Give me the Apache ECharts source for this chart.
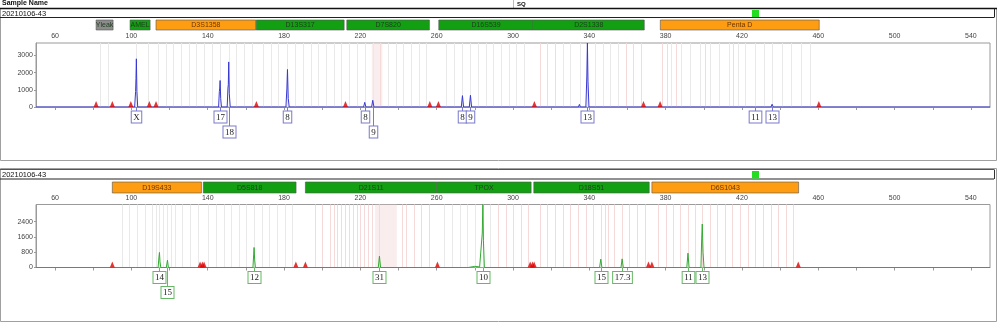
<!DOCTYPE html>
<html><head><meta charset="utf-8">
<script src="https://cdn.jsdelivr.net/npm/echarts@6/dist/echarts.min.js"></script>
<style>html,body{margin:0;padding:0;background:#fff}#c{width:1000px;height:323px}</style>
</head><body><div id="c"></div>
<script>
// ---------- DATA ----------
const xTickLabels = [60,100,140,180,220,260,300,340,380,420,460,500,540];
const xTicks = [60,80,100,120,140,160,180,200,220,240,260,280,300,320,340,360,380,400,420,440,460,480,500,520,540];
const topYTicks = [0,1000,2000,3000];
const botYTicks = [0,800,1600,2400];

// loci: [start bp, end bp]
const topLociRange = [[81.5,90.4],[99.3,109.8],[112.9,165.2],[165.4,211.5],[212.9,256.2],[261.1,310.6],[310.6,368.8],[377.2,460.5]];
const topLociNames = ['Yleak','AMEL','D3S1358','D13S317','D7S820','D16S539','D2S1338','Penta D'];
const topLociKinds = ['grey','green','orange','green','green','green','green','orange'];
const botLociRange = [[90.0,136.7],[137.7,186.3],[191.2,260.1],[260.2,309.5],[310.9,371.4],[372.8,449.7]];
const botLociNames = ['D19S433','D5S818','D21S11','TPOX','D18S51','D6S1043'];
const botLociKinds = ['orange','green','green','green','green','orange'];

// traces: [bp, RFU]
const topTrace = [[50,0],
 [101.7,0],[102.2,900],[102.4,1650],[102.6,2800],[102.9,900],[103.3,0],
 [141.0,0],[141.6,60],[142.2,0],
 [145.7,0],[146.1,900],[146.3,1100],[146.5,1540],[146.8,500],[147.2,0],
 [150.2,0],[150.6,1100],[150.8,1300],[151.0,2620],[151.3,800],[151.8,0],
 [181.0,0],[181.5,1100],[181.8,2180],[182.2,500],[182.7,0],
 [185.5,0],[185.8,40],[186.2,0],
 [221.7,0],[222.3,270],[222.9,0],
 [225.9,0],[226.5,390],[227.1,0],
 [272.9,0],[273.5,660],[274.1,0],
 [277.1,0],[277.7,680],[278.3,0],
 [334.3,0],[334.8,150],[335.3,0],
 [338.2,0],[338.7,1800],[339.0,3720],[339.3,1500],[339.8,0],
 [426.0,0],[426.6,40],[427.2,0],
 [435.2,0],[435.8,160],[436.4,0],
 [550,0]];
const botTrace = [[50,0],
 [102.3,0],[102.8,30],[103.3,0],
 [110.2,0],[110.7,40],[111.2,0],
 [114.0,0],[114.4,500],[114.7,790],[115.0,300],[115.4,0],
 [118.3,0],[118.9,384],[119.4,0],
 [151.2,0],[151.7,20],[152.2,0],
 [159.1,0],[159.6,30],[160.1,0],
 [163.7,0],[164.1,700],[164.3,1050],[164.6,400],[165.0,0],
 [229.4,0],[230.0,595],[230.6,0],
 [276.5,0],[277.5,40],[280,60],[282.5,30],
 [283.4,80],[283.9,1800],[284.2,3300],[284.5,1400],[285.0,0],
 [339.5,0],[340.4,30],[341.2,0],
 [345.4,0],[346.0,437],[346.6,0],
 [356.6,0],[357.2,453],[357.8,0],
 [391.1,0],[391.7,752],[392.3,0],
 [394.1,0],[394.6,80],[395.1,0],
 [398.5,0],[398.9,1500],[399.2,2280],[399.6,800],[400.1,0],
 [550,0]];

// size-standard / panel markers (bp)
const topMarkers = [81.5,90.0,99.7,109.4,112.9,165.5,212.2,256.4,260.9,311.2,368.4,377.1,460.3];
const botMarkers = [90.0,136.0,137.2,138.1,186.2,191.2,260.4,309.0,310.2,311.1,371.0,372.8,449.5];

// allele calls
const topAllelePos = [102.6,146.5,151.0,181.8,222.3,226.5,273.5,277.7,339.0,426.6,435.8];
const topAlleleText = ['X','17','18','8','8','9','8','9','13','11','13'];
const topAlleleRow = [1,1,2,1,1,2,1,1,1,1,1];
const botAllelePos = [114.7,118.9,164.3,230.0,284.2,346.0,357.2,391.7,399.2];
const botAlleleText = ['14','15','12','31','10','15','17.3','11','13'];
const botAlleleRow = [1,2,1,1,1,1,1,1,1];

// bins (bp)
const topBinsGray = [83.5,87.5,102.5,108.5,114,118,122,126,130,134,138,142,146.5,151,155,159,163,169,173,177,181.8,186,190,194,198,202,206,210,214,218,222.3,226.5,234.5,238.5,242.5,246.5,250.5,254.5,265,269,273.5,277.7,281.7,285.7,289.7,293.7,297.7,301.7,305.7,326,330,335,339,343,347,351,355,383,388,393,398,403,408,413,418,421.6,426.6,431.6,435.8,440.8,445.8,450.8,455.8];
const topBinsPink = [230.5,314,318,322,359,363,367,378,380.5,385.5,400.5,415.5];
const topBand = [226,231.5];
const botBinsGray = [95,99,103,107,110.7,112.7,114.7,116.7,118.9,120.7,122.7,126.7,130.7,134.7,140.3,144.3,148.3,152.3,156.3,160.3,164.3,168.3,172.3,176.3,180.3,184.3,264,268,272,276,280.2,284.2,288.2];
const botBinsPink = [196,200,204,206,208,210,212,214,216,218,220,222,224,226,230,242,244,248,252,256,292.2,296.2,300.2,304.2,308,314,318,322,326,330,334,338,342,346,348,350,353,357.2,361,365,369,376,380,384,387.7,391.7,395.5,399.2,403,407,411,415,419,423,427,431,435,439,443,447];
const botBand = [227.7,239.1];

// ---------- CHART ----------
const chart = echarts.init(document.getElementById('c'), null, {renderer:'canvas'});
const SANS = 'Liberation Sans, Arial, sans-serif';
const SERIF = 'Liberation Serif, Times New Roman, serif';
const kindFill = {grey:'#8c8c8c', green:'#12a012', orange:'#ff9d12'};

function binRender(color){
  return function(params, api){
    const cs = params.coordSys;
    const x = Math.round(api.coord([api.value(0),0])[0]) + 0.5;
    return {type:'line', shape:{x1:x,y1:cs.y,x2:x,y2:cs.y+cs.height}, style:{stroke:color, lineWidth:1}};
  };
}
function bandRender(params, api){
  const cs = params.coordSys;
  const x0 = api.coord([api.value(0),0])[0], x1 = api.coord([api.value(1),0])[0];
  return {type:'rect', shape:{x:x0,y:cs.y,width:x1-x0,height:cs.height}, style:{fill:'rgba(245,215,215,0.45)'}};
}
function locusRender(names, kinds, offTop, offBot){
  return function(params, api){
    const cs = params.coordSys;
    const x0 = api.coord([api.value(0),0])[0], x1 = api.coord([api.value(1),0])[0];
    const y0 = cs.y + offTop, y1 = cs.y + offBot;
    const k = kinds[params.dataIndex];
    return {type:'group', children:[
      {type:'rect', shape:{x:x0,y:y0,width:x1-x0,height:y1-y0}, style:{fill:kindFill[k], stroke:'#555', lineWidth:0.6}},
      {type:'text', x:(x0+x1)/2, y:(y0+y1)/2+0.5, style:{text:names[params.dataIndex], align:'center', verticalAlign:'middle', fontSize:7, fontFamily:SANS, fill: k==='orange' ? '#6a3500' : '#1d3d1d'}}
    ]};
  };
}
function alleleRender(texts, rows, color){
  return function(params, api){
    const p = api.coord([api.value(0),0]);
    const x = Math.round(p[0]) + 0.5, y = p[1];
    const boxTop = rows[params.dataIndex] === 1 ? y + 4.5 : y + 19.5;
    return {type:'group', children:[
      {type:'line', shape:{x1:x,y1:y,x2:x,y2:boxTop}, style:{stroke:color, lineWidth:1}},
      {type:'text', x:x, y:boxTop, style:{text:texts[params.dataIndex], align:'center', verticalAlign:'top', fontSize:9, fontFamily:SERIF, fill:'#222', backgroundColor:'#fff', borderColor:color, borderWidth:1, padding:[1,1.5,0,1.5], lineHeight:10}}
    ]};
  };
}

function xAxisCfg(gi){
  return {gridIndex:gi, type:'value', position:'top', min:50, max:550,
    axisLine:{show:true, lineStyle:{color:'#9a9a9a', width:1}},
    axisTick:{show:true, inside:true, length:3, customValues:xTicks, lineStyle:{color:'#9a9a9a'}},
    axisLabel:{customValues:xTickLabels, fontSize:7, color:'#444', margin:3, fontFamily:SANS, formatter:v=>String(v)},
    splitLine:{show:false}};
}
function yAxisCfg(gi, max, ticks){
  return {gridIndex:gi, type:'value', min:0, max:max,
    axisLine:{show:true, lineStyle:{color:'#9a9a9a'}},
    axisTick:{show:true, length:2, customValues:ticks, lineStyle:{color:'#9a9a9a'}},
    axisLabel:{customValues:ticks, fontSize:7, color:'#444', margin:3, fontFamily:SANS, formatter:v=>String(v)},
    splitLine:{show:false}};
}

const headerGraphics = [
  {type:'text', left:2, top:0, style:{text:'Sample Name', fontSize:7, fontWeight:'bold', fontFamily:SANS, fill:'#111'}},
  {type:'line', shape:{x1:513.5,y1:0,x2:513.5,y2:8}, style:{stroke:'#bbb', lineWidth:1}},
  {type:'text', left:517, top:1, style:{text:'SQ', fontSize:6, fontWeight:'bold', fontFamily:SANS, fill:'#111'}},
  {type:'rect', shape:{x:0.5,y:8.5,width:996,height:152}, style:{fill:'none', stroke:'#a0a0a0', lineWidth:1}},
  {type:'line', shape:{x1:0,y1:8.5,x2:997,y2:8.5}, style:{stroke:'#111', lineWidth:1.6}},
  {type:'line', shape:{x1:0,y1:17.5,x2:994,y2:17.5}, style:{stroke:'#222', lineWidth:1}},
  {type:'line', shape:{x1:994.5,y1:8.5,x2:994.5,y2:17.5}, style:{stroke:'#222', lineWidth:1}},
  {type:'text', left:2, top:9.5, style:{text:'20210106-43', fontSize:7.5, fontFamily:SANS, fill:'#111'}},
  {type:'rect', shape:{x:752,y:10,width:7,height:7}, style:{fill:'#22dd22'}},
  {type:'rect', shape:{x:0.5,y:168.5,width:996,height:153}, style:{fill:'none', stroke:'#a0a0a0', lineWidth:1}},
  {type:'line', shape:{x1:0,y1:169.5,x2:994,y2:169.5}, style:{stroke:'#555', lineWidth:1}},
  {type:'line', shape:{x1:0,y1:179,x2:994,y2:179}, style:{stroke:'#222', lineWidth:1}},
  {type:'line', shape:{x1:994.5,y1:169.5,x2:994.5,y2:179}, style:{stroke:'#333', lineWidth:1}},
  {type:'text', left:2, top:170.5, style:{text:'20210106-43', fontSize:7.5, fontFamily:SANS, fill:'#111'}},
  {type:'rect', shape:{x:752,y:171,width:7,height:7.5}, style:{fill:'#22dd22'}}
];

function panelSeries(gi, bandArr, binsGray, binsPink, trace, lineColor, markers, lociRange, lociNames, lociKinds, offTop, offBot, aPos, aText, aRow, boxColor){
  return [
    {type:'custom', xAxisIndex:gi, yAxisIndex:gi, silent:true, z:1, renderItem:bandRender, data:[bandArr]},
    {type:'custom', xAxisIndex:gi, yAxisIndex:gi, silent:true, z:1, renderItem:binRender('#e9e9e9'), data:binsGray.map(v=>[v])},
    {type:'custom', xAxisIndex:gi, yAxisIndex:gi, silent:true, z:1, renderItem:binRender('#f6dada'), data:binsPink.map(v=>[v])},
    {type:'line', xAxisIndex:gi, yAxisIndex:gi, silent:true, z:3, showSymbol:false, animation:false, data:trace, lineStyle:{color:lineColor, width:1}},
    {type:'scatter', xAxisIndex:gi, yAxisIndex:gi, silent:true, z:4, symbol:'triangle', symbolSize:[5,6], symbolOffset:[0,-3], itemStyle:{color:'#dd0000'}, data:markers.map(v=>[v,0])},
    {type:'custom', xAxisIndex:gi, yAxisIndex:gi, silent:true, z:5, clip:false, renderItem:locusRender(lociNames, lociKinds, offTop, offBot), data:lociRange},
    {type:'custom', xAxisIndex:gi, yAxisIndex:gi, silent:true, z:5, clip:false, renderItem:alleleRender(aText, aRow, boxColor), data:aPos.map(v=>[v,0])}
  ];
}

const option = {
  animation:false,
  backgroundColor:'#fff',
  graphic: headerGraphics,
  grid:[
    {left:36, top:43, width:954, height:64, show:true, borderColor:'#9a9a9a', borderWidth:1},
    {left:36, top:204.5, width:954, height:63, show:true, borderColor:'#9a9a9a', borderWidth:1}
  ],
  xAxis:[xAxisCfg(0), xAxisCfg(1)],
  yAxis:[yAxisCfg(0, 3720, topYTicks), yAxisCfg(1, 3300, botYTicks)],
  series:[].concat(
    panelSeries(0, topBand, topBinsGray, topBinsPink, topTrace, '#3838d0', topMarkers, topLociRange, topLociNames, topLociKinds, -23, -13, topAllelePos, topAlleleText, topAlleleRow, '#7a7acc'),
    panelSeries(1, botBand, botBinsGray, botBinsPink, botTrace, '#33aa33', botMarkers, botLociRange, botLociNames, botLociKinds, -22.5, -11.5, botAllelePos, botAlleleText, botAlleleRow, '#66b866')
  )
};
chart.setOption(option);
</script>
</body></html>
